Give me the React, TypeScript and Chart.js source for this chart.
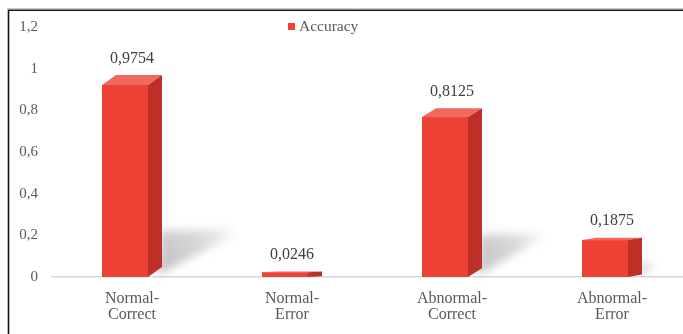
import React, { useEffect, useRef } from "react";
import { Chart, registerables } from "chart.js";

Chart.register(...registerables);

const categories: string[][] = [
  ["Normal-", "Correct"],
  ["Normal-", "Error"],
  ["Abnormal-", "Correct"],
  ["Abnormal-", "Error"],
];
const accuracy: number[] = [0.9754, 0.0246, 0.8125, 0.1875];
const seriesLabel = "Accuracy";
const yMin = 0;
const yMax = 1.2;
const yStep = 0.2;

const RED_FRONT = "#EE4136";
const RED_TOP = "#F2675E";
const RED_SIDE = "#BD3028";
const TEXT = "#595959";
const LABEL_TEXT = "#404040";
const FONT = "'Liberation Serif', 'Times New Roman', serif";

const DEPTH_X = 14;
const FRONT_SCALE = 0.945;

const fmt = (v: number) => {
  const r = Math.round(v * 10000) / 10000;
  return String(r).replace(".", ",");
};

const bar3dPlugin = {
  id: "bar3d",
  beforeDatasetDraw() {
    return false;
  },
  afterDatasetsDraw(chart: any) {
    const ctx: CanvasRenderingContext2D = chart.ctx;
    const meta = chart.getDatasetMeta(0);
    const ds = chart.data.datasets[0];
    const items = meta.data.map((el: any, i: number) => {
      const p = el.getProps(["x", "y", "base", "width"], true);
      const left = p.x - p.width / 2;
      const right = p.x + p.width / 2;
      const fr = right - DEPTH_X;
      const h = (p.base - p.y) * FRONT_SCALE;
      const top = p.base - h;
      const dy = Math.min(10, 0.052 * h + 0.5);
      return { x: p.x, left, right, fr, h, top, dy, base: p.base, v: ds.data[i] };
    });
    // shadows
    items.forEach((it: any) => {
      const L = it.h * 0.4;
      if (L < 4) return;
      const R = Math.min(42, L * 0.6);
      ctx.save();
      ctx.filter = "blur(4px)";
      const g = ctx.createLinearGradient(it.right, it.base, it.right + L, it.base - R);
      g.addColorStop(0, "rgba(0,0,0,0.24)");
      g.addColorStop(0.6, "rgba(0,0,0,0.15)");
      g.addColorStop(1, "rgba(0,0,0,0.02)");
      ctx.fillStyle = g;
      ctx.beginPath();
      ctx.moveTo(it.right - 4, it.base - 2);
      ctx.lineTo(it.right + L, it.base - R - 2);
      ctx.lineTo(it.right + L - 6, it.base - R - 6);
      ctx.lineTo(it.right - 2, it.base - R - 4);
      ctx.closePath();
      ctx.fill();
      ctx.restore();
    });
    items.forEach((it: any) => {
      ctx.save();
      // front
      ctx.fillStyle = RED_FRONT;
      ctx.fillRect(it.left, it.top, it.fr - it.left, it.h);
      // top
      ctx.fillStyle = RED_TOP;
      ctx.beginPath();
      ctx.moveTo(it.left, it.top);
      ctx.lineTo(it.left + DEPTH_X, it.top - it.dy);
      ctx.lineTo(it.right, it.top - it.dy);
      ctx.lineTo(it.fr, it.top);
      ctx.closePath();
      ctx.fill();
      // side
      ctx.fillStyle = RED_SIDE;
      ctx.beginPath();
      ctx.moveTo(it.fr, it.top);
      ctx.lineTo(it.right, it.top - it.dy);
      ctx.lineTo(it.right, it.base - it.dy);
      ctx.lineTo(it.fr, it.base);
      ctx.closePath();
      ctx.fill();
      // label
      ctx.fillStyle = LABEL_TEXT;
      ctx.font = `16px ${FONT}`;
      ctx.textAlign = "center";
      ctx.textBaseline = "middle";
      ctx.fillText(fmt(it.v), it.x, it.top - it.dy - 16.5);
      ctx.restore();
    });
  },
  afterDraw(chart: any) {
    const ctx: CanvasRenderingContext2D = chart.ctx;
    const ds = chart.data.datasets[0];
    ctx.save();
    // legend
    ctx.fillStyle = RED_FRONT;
    ctx.fillRect(288, 23, 7, 7);
    ctx.fillStyle = TEXT;
    ctx.font = `15.5px ${FONT}`;
    ctx.textAlign = "left";
    ctx.textBaseline = "middle";
    ctx.fillText(ds.label, 299, 26.5);
    // frame
    ctx.strokeStyle = "#c8c8c8";
    ctx.lineWidth = 1;
    ctx.beginPath();
    ctx.moveTo(7, 8.5);
    ctx.lineTo(chart.width, 8.5);
    ctx.stroke();
    ctx.strokeStyle = "#111";
    ctx.lineWidth = 1.6;
    ctx.beginPath();
    ctx.moveTo(8.5, chart.height);
    ctx.lineTo(8.5, 10.3);
    ctx.lineTo(chart.width, 10.3);
    ctx.stroke();
    ctx.restore();
  },
};

export default function App() {
  const ref = useRef<HTMLCanvasElement | null>(null);
  useEffect(() => {
    if (!ref.current) return;
    const chart = new Chart(ref.current, {
      type: "bar",
      data: {
        labels: categories,
        datasets: [
          {
            label: seriesLabel,
            data: accuracy,
            backgroundColor: RED_FRONT,
            barThickness: 60,
          },
        ],
      },
      options: {
        responsive: false,
        animation: false,
        devicePixelRatio: 1,
        layout: { padding: { top: 27, right: 8, bottom: 0, left: 0 } },
        plugins: {
          legend: { display: false },
          tooltip: { enabled: false },
        },
        scales: {
          x: {
            grid: { display: false, drawTicks: false },
            border: { display: true, color: "#D9D9D9", width: 1.5 },
            ticks: {
              color: TEXT,
              font: { family: FONT, size: 16, lineHeight: 1.05 },
              padding: 13,
              maxRotation: 0,
              autoSkip: false,
            },
            afterFit: (s: any) => {
              s.height = 57;
            },
          },
          y: {
            min: yMin,
            max: yMax,
            grid: { display: false, drawTicks: false },
            border: { display: false },
            ticks: {
              stepSize: yStep,
              color: TEXT,
              font: { family: FONT, size: 15 },
              padding: 14,
              callback: (v: any) => String(Math.round(Number(v) * 10) / 10).replace(".", ","),
            },
            afterFit: (s: any) => {
              s.width = 52;
            },
          },
        },
      },
      plugins: [bar3dPlugin],
    });
    return () => chart.destroy();
  }, []);
  return (
    <div
      style={{
        position: "fixed",
        left: 0,
        top: 0,
        width: 683,
        height: 334,
        overflow: "hidden",
        background: "#fff",
      }}
    >
      <canvas ref={ref} width={700} height={334} style={{ display: "block", width: 700, height: 334 }} />
    </div>
  );
}
